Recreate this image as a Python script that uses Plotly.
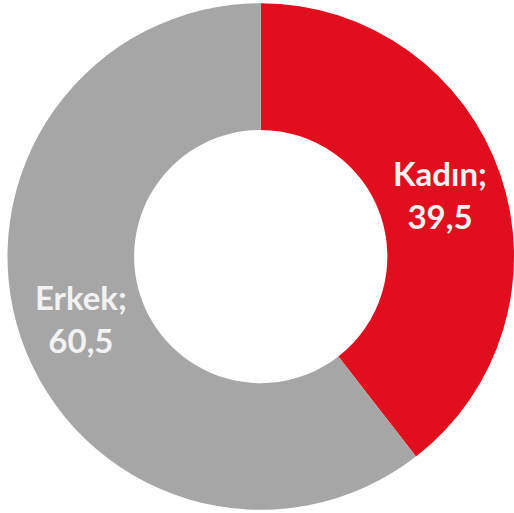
import math
import plotly.graph_objects as go

# Cinsiyet dağılımı (%)
labels = ["Kadın", "Erkek"]
values = [39.5, 60.5]
colors = ["#E10E1D", "#A6A6A6"]

W, H = 514, 513
dom_x = [7.5 / W, 1]
dom_y = [3 / H, 510 / H]
hole = 0.5

fig = go.Figure(go.Pie(
    labels=labels,
    values=values,
    hole=hole,
    sort=False,
    direction="clockwise",
    rotation=0,
    marker=dict(colors=colors, line=dict(width=0)),
    textinfo="none",
    domain=dict(x=dom_x, y=dom_y),
    showlegend=False,
    hoverinfo="label+value",
))

# etiketleri halkanın ortasına, dilim açısının ortasına yerleştir
cx = (dom_x[0] + dom_x[1]) / 2 * W
cy = (dom_y[0] + dom_y[1]) / 2 * H
r_out = min((dom_x[1] - dom_x[0]) * W, (dom_y[1] - dom_y[0]) * H) / 2
r_mid = r_out * (1 + hole) / 2
total = sum(values)
cum = 0
for lab, val in zip(labels, values):
    ang = 2 * math.pi * (cum + val / 2) / total
    cum += val
    x = cx + r_mid * math.sin(ang)
    y = cy + r_mid * math.cos(ang)
    fig.add_annotation(
        x=x / W, y=y / H, xref="paper", yref="paper",
        xanchor="center", yanchor="middle",
        text=f"<b>{lab};<br>{val:.1f}".replace(".", ",") + "</b>",
        showarrow=False,
        font=dict(family="Lato, 'Open Sans', sans-serif", size=33, color="#F2F2F2"),
        align="center",
    )

fig.update_layout(
    width=W,
    height=H,
    margin=dict(l=0, r=0, t=0, b=0),
    paper_bgcolor="white",
    plot_bgcolor="white",
)

# tarayıcının varsayılan body boşluğunu kaldır
fig.write_html("out.html", config={"displayModeBar": False},
               post_script="document.body.style.margin='0';")
